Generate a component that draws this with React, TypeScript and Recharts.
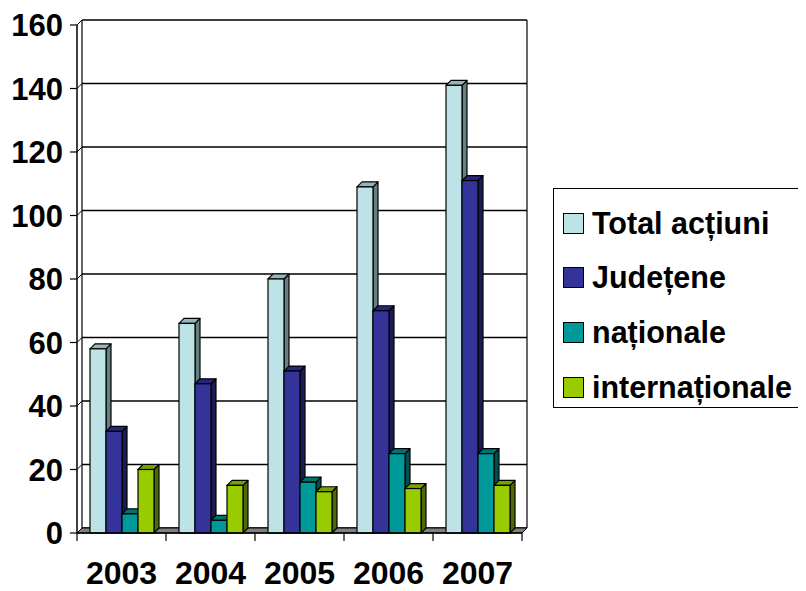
import React from 'react';
import { BarChart, Bar, XAxis, YAxis, CartesianGrid, Legend } from 'recharts';

const YEARS = ['2003', '2004', '2005', '2006', '2007'];
const TOTAL = [58, 66, 80, 109, 141];
const JUDETENE = [32, 47, 51, 70, 111];
const NATIONALE = [6, 4, 16, 25, 25];
const INTERNATIONALE = [20, 15, 13, 14, 15];
const Y_TICKS = [0, 20, 40, 60, 80, 100, 120, 140, 160];

const SERIES = [
  { key: 'total', name: 'Total acțiuni', front: '#BDE3E6', side: '#667F81', top: '#97B5B8' },
  { key: 'judetene', name: 'Județene', front: '#333399', side: '#1C1C55', top: '#26267A' },
  { key: 'nationale', name: 'naționale', front: '#009999', side: '#004F4F', top: '#007272' },
  { key: 'internationale', name: 'internaționale', front: '#99CC00', side: '#4F6A00', top: '#77A000' },
];

const data = YEARS.map((year, i) => ({
  year,
  total: TOTAL[i],
  judetene: JUDETENE[i],
  nationale: NATIONALE[i],
  internationale: INTERNATIONALE[i],
}));

// depth of the fake 3d
const DX = 5;
const DY = 5;
const FONT = '"Liberation Sans", Arial, sans-serif';

function Box3D(props: any) {
  const { x, y, width: w, height: h, colors } = props;
  if (!h || h <= 0) return null;
  const side = `${x + w},${y} ${x + w + DX},${y - DY} ${x + w + DX},${y + h - DY} ${x + w},${y + h}`;
  const top = `${x},${y} ${x + DX},${y - DY} ${x + w + DX},${y - DY} ${x + w},${y}`;
  return (
    <g>
      <polygon points={side} fill={colors.side} stroke="#000" strokeWidth={1.2} strokeLinejoin="round" />
      <polygon points={top} fill={colors.top} stroke="#000" strokeWidth={1.2} strokeLinejoin="round" />
      <rect x={x} y={y} width={w} height={h} fill={colors.front} stroke="#000" strokeWidth={1.2} />
    </g>
  );
}

// back wall grid lines, plus the walls and floor drawn once
function gridLine(props: any) {
  const { x, y, width, height, y1, index } = props;
  const line = (
    <g key={`gl-${index}`}>
      <line x1={x} y1={y1} x2={x + DX} y2={y1 - DY} stroke="#000" strokeWidth={1} />
      <line x1={x + DX} y1={y1 - DY} x2={x + width + DX} y2={y1 - DY} stroke="#000" strokeWidth={1.3} />
    </g>
  );
  if (index !== 0) return line;
  const bottom = y + height;
  const floor = `${x},${bottom} ${x + width},${bottom} ${x + width + DX},${bottom - DY} ${x + DX},${bottom - DY}`;
  const step = width / YEARS.length;
  return (
    <g key={`gl-${index}`}>
      {line}
      <line x1={x + DX} y1={y - DY} x2={x + DX} y2={bottom - DY} stroke="#000" strokeWidth={1.2} />
      <line x1={x + width + DX} y1={y - DY} x2={x + width + DX} y2={bottom - DY} stroke="#000" strokeWidth={1.2} />
      <line x1={x} y1={y} x2={x + DX} y2={y - DY} stroke="#000" strokeWidth={1} />
      <polygon points={floor} fill="#808080" stroke="#000" strokeWidth={1} />
      {[0, 1, 2, 3, 4, 5].map((i) => (
        <line key={`bt-${i}`} x1={x + i * step} y1={bottom} x2={x + i * step} y2={bottom + 8} stroke="#000" strokeWidth={1.2} />
      ))}
    </g>
  );
}

function LegendBox() {
  return (
    <div
      style={{
        width: 252,
        height: 220,
        boxSizing: 'border-box',
        border: '1px solid #000',
        background: '#fff',
        position: 'relative',
        fontFamily: FONT,
        fontWeight: 'bold',
        fontSize: 30.5,
        color: '#000',
      }}
    >
      {SERIES.map((s, i) => (
        <div
          key={s.key}
          style={{ position: 'absolute', left: 9, top: 34 + i * 54.7 - 20, height: 40, display: 'flex', alignItems: 'center', whiteSpace: 'nowrap' }}
        >
          <div style={{ width: 19, height: 19, background: s.front, border: '1.5px solid #000', marginRight: 8 }} />
          <span>{s.name}</span>
        </div>
      ))}
    </div>
  );
}

export default function App() {
  return (
    <div style={{ width: 798, height: 583, background: '#fff' }}>
      <BarChart
        width={798}
        height={583}
        data={data}
        margin={{ top: 17, right: 284, bottom: 0, left: 0 }}
        barGap={0}
        barSize={16}
        style={{ fontFamily: FONT }}
      >
        <CartesianGrid horizontal={gridLine} vertical={false} />
        <XAxis
          dataKey="year"
          height={58}
          axisLine={{ stroke: '#000', strokeWidth: 1.5 }}
          tickLine={false}
          tickSize={6}
          tickMargin={22}
          tick={{ fill: '#000', fontSize: 32, fontWeight: 'bold', fontFamily: FONT }}
        />
        <YAxis
          width={69}
          domain={[0, 160]}
          ticks={Y_TICKS}
          interval={0}
          axisLine={{ stroke: '#000', strokeWidth: 1.5 }}
          tickLine={{ stroke: '#000', strokeWidth: 1.2 }}
          tickSize={7}
          tickMargin={7}
          tick={{ fill: '#000', fontSize: 31, fontWeight: 'bold', fontFamily: FONT }}
        />
        <Legend
          layout="horizontal"
          verticalAlign="middle"
          align="center"
          wrapperStyle={{ position: 'absolute', left: 545, top: 180, width: 252, height: 220 }}
          content={() => <LegendBox />}
        />
        {SERIES.map((s) => (
          <Bar
            key={s.key}
            dataKey={s.key}
            name={s.name}
            fill={s.front}
            isAnimationActive={false}
            shape={(p: any) => <Box3D {...p} colors={s} />}
          />
        ))}
      </BarChart>
    </div>
  );
}
